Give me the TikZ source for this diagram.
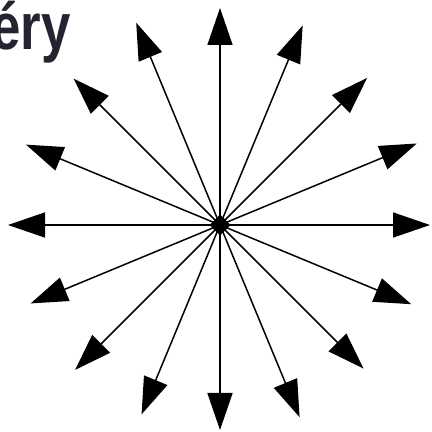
\documentclass[tikz,border=0pt]{standalone}
\usepackage{fontspec}
\setmainfont{Liberation Sans}
\usetikzlibrary{arrows.meta,calc}
\definecolor{titlenavy}{RGB}{35,35,50}
\tikzset{
  ray/.style={line width=1.5pt, draw=black, -{Triangle[length=37pt,width=25pt]}},
  titletext/.style={font=\fontsize{66}{66}\selectfont\bfseries, text=titlenavy, inner sep=0pt, xscale=0.8}
}
\begin{document}
\begin{tikzpicture}[x=1pt,y=1pt]
\useasboundingbox (0,0) rectangle (432,432);
\coordinate (c) at (220,207);
\foreach \a/\r [count=\i] in {0/210,22.5/213,45/208,67.5/216,90/217,112.5/219,135/207,157.5/210,180/212,202.5/205,225/205,247.5/205,270/205,292.5/208,315/203,337.5/207}{
  \coordinate (t\i) at ($(c)+(\a:\r)$);
  \draw[ray] (c) -- (t\i);
}
\fill[black] ($(c)+(10.5,0)$) -- ($(c)+(0,10.5)$) -- ($(c)+(-10.5,0)$) -- ($(c)+(0,-10.5)$) -- cycle;
\node[titletext, anchor=base east] (title) at (71,382) {éry};
\end{tikzpicture}
\end{document}
